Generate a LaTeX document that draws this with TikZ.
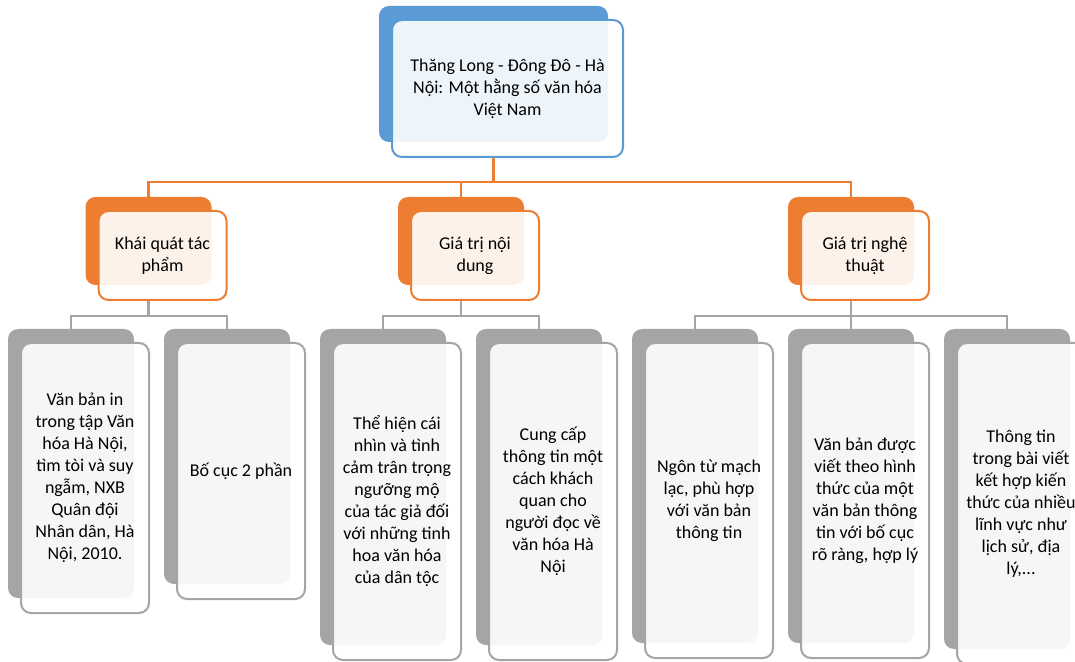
\documentclass[tikz,border=0pt]{standalone}
\usepackage{fontspec}
\setmainfont{Carlito}
\usetikzlibrary{backgrounds}

\definecolor{topblue}{HTML}{5B9BD5}
\definecolor{midorange}{HTML}{ED7D31}
\definecolor{leafgray}{HTML}{A5A5A5}

\tikzset{
	card/.style={rectangle, rounded corners=5pt, line width=1pt, fill=white,
		fill opacity=0.9, text opacity=1, align=center, inner sep=2pt,
		font=\fontsize{9}{11}\selectfont},
	topcard/.style={card, draw=topblue, minimum width=115.5pt, minimum height=68.5pt},
	midcard/.style={card, draw=midorange, minimum width=64pt, minimum height=44.5pt},
	leafcard/.style={card, draw=leafgray, minimum width=64pt},
	oline/.style={midorange, line width=1.2pt},
	gline/.style={leafgray, line width=1.2pt},
}

\begin{document}
\begin{tikzpicture}[x=0.5pt, y=-0.5pt]
	\useasboundingbox (0,0) rectangle (1075,662);

	% --- Title ---
	\node[topcard] (top) at (507.5, 88.5) {Thăng Long - Đông Đô - Hà\\Nội: Một hằng số văn hóa\\Việt Nam};

	% --- Second level ---
	\node[midcard] (kq) at (162.5, 255.5) {Khái quát tác\\phẩm};
	\node[midcard] (nd) at (475, 255.5) {Giá trị nội\\dung};
	\node[midcard] (nt) at (865, 255.5) {Giá trị nghệ\\thuật};

	% --- Leaves ---
	\node[leafcard, minimum height=135pt] (a1) at (85, 478) {Văn bản in\\trong tập Văn\\hóa Hà Nội,\\tìm tòi và suy\\ngẫm, NXB\\Quân đội\\Nhân dân, Hà\\Nội, 2010.};
	\node[leafcard, minimum height=128pt] (a2) at (241, 471) {Bố cục 2 phần};
	\node[leafcard, minimum height=158.5pt] (b1) at (397, 501.5) {Thể hiện cái\\nhìn và tình\\cảm trân trọng\\ngưỡng mộ\\của tác giả đối\\với những tinh\\hoa văn hóa\\của dân tộc};
	\node[leafcard, minimum height=158.5pt] (b2) at (553, 501.5) {Cung cấp\\thông tin một\\cách khách\\quan cho\\người đọc về\\văn hóa Hà\\Nội};
	\node[leafcard, minimum height=157.5pt] (c1) at (709, 500.5) {Ngôn từ mạch\\lạc, phù hợp\\với văn bản\\thông tin};
	\node[leafcard, minimum height=157.5pt] (c2) at (865, 500.5) {Văn bản được\\viết theo hình\\thức của một\\văn bản thông\\tin với bố cục\\rõ ràng, hợp lý};
	\node[leafcard, minimum height=160.5pt] (c3) at (1021, 503.5) {Thông tin\\trong bài viết\\kết hợp kiến\\thức của nhiều\\lĩnh vực như\\lịch sử, địa\\lý,...};

	\begin{pgfonlayer}{background}
		\fill[white] (0,0) rectangle (1075,662);

		% --- Back cards ---
		\foreach \n/\c in {top/topblue, kq/midorange, nd/midorange, nt/midorange,
			a1/leafgray, a2/leafgray, b1/leafgray, b2/leafgray, c1/leafgray, c2/leafgray, c3/leafgray} {
			\fill[\c, rounded corners=5pt] ([shift={(-12,-13)}]\n.north west) rectangle ([shift={(-16,-16)}]\n.south east);
		}

		% --- Connectors ---
		\draw[oline] ([xshift=-7pt]top.south) -- ++(0,24) coordinate (obus);
		\foreach \n in {kq, nd, nt} {
			\draw[oline] (obus) -| ([shift={(-14,-13)}]\n.north);
		}

		\draw[gline] ([xshift=-7pt]kq.south) -- ++(0,15) coordinate (kqbus);
		\draw[gline] ([xshift=-7pt]nd.south) -- ++(0,15) coordinate (ndbus);
		\draw[gline] ([xshift=-7pt]nt.south) -- ++(0,15) coordinate (ntbus);
		\foreach \n in {a1, a2} {
			\draw[gline] (kqbus) -| ([shift={(-14,-12)}]\n.north);
		}
		\foreach \n in {b1, b2} {
			\draw[gline] (ndbus) -| ([shift={(-14,-12)}]\n.north);
		}
		\foreach \n in {c1, c2, c3} {
			\draw[gline] (ntbus) -| ([shift={(-14,-12)}]\n.north);
		}
	\end{pgfonlayer}

\end{tikzpicture}
\end{document}
